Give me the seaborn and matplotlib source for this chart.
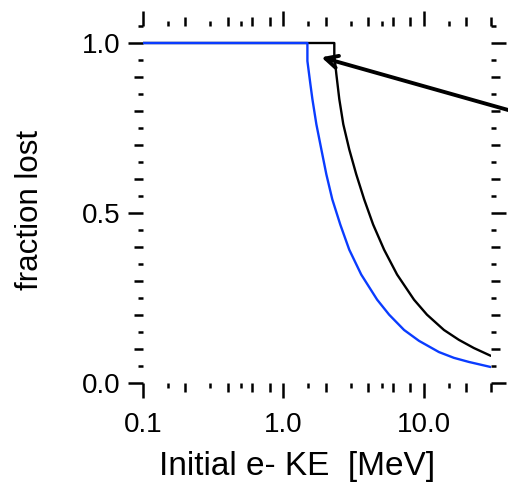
import numpy as np
import pandas as pd
import matplotlib
matplotlib.use("Agg")
import matplotlib.pyplot as plt
import seaborn as sns

# Fraction of electrons lost vs. initial kinetic energy (MeV)
ke_black = [0.1, 2.300, 2.300, 2.377, 2.496, 2.665, 2.939, 3.294, 3.753, 4.347,
            5.203, 6.435, 8.494, 10.50, 13.87, 17.71, 22.62, 29.87]
lost_black = [1.0, 1.0, 0.965, 0.909, 0.835, 0.761, 0.687, 0.614, 0.540, 0.466,
              0.392, 0.319, 0.245, 0.201, 0.156, 0.127, 0.103, 0.080]

ke_blue = [0.1, 1.480, 1.480, 1.554, 1.606, 1.714, 1.860, 2.018, 2.226, 2.537,
           2.939, 3.575, 4.642, 5.648, 7.215, 9.216, 12.78, 16.33, 20.85, 29.87]
lost_blue = [1.0, 1.0, 0.947, 0.879, 0.835, 0.761, 0.687, 0.614, 0.540, 0.466,
             0.392, 0.319, 0.245, 0.201, 0.156, 0.124, 0.091, 0.074, 0.062, 0.047]

x_tick_vals = [0.1, 0.15, 0.2, 0.3, 0.4, 0.5, 0.6, 0.8,
               1.0, 1.5, 2.0, 3.0, 4.0, 5.0, 6.0, 8.0,
               10.0, 15.0, 20.0, 30.0]
x_tick_labels = {0.1: "0.1", 1.0: "1.0", 10.0: "10.0"}
y_tick_vals = [round(0.05 * i, 2) for i in range(22)]
y_tick_labels = {0.0: "0.0", 0.5: "0.5", 1.0: "1.0"}

sns.set_style("white")
plt.rcParams["font.family"] = ["Liberation Sans", "DejaVu Sans"]
plt.rcParams.update({"text.color": "black", "axes.labelcolor": "black",
                     "xtick.color": "black", "ytick.color": "black"})

fig = plt.figure(figsize=(5.08, 4.86), dpi=100)
ax = fig.add_axes([143 / 508, 1 - 383 / 486, 348 / 508, 357 / 486])

df_black = pd.DataFrame({"ke": ke_black, "lost": lost_black})
df_blue = pd.DataFrame({"ke": ke_blue, "lost": lost_blue})
sns.lineplot(data=df_black, x="ke", y="lost", ax=ax, color="black",
             linewidth=1.7, estimator=None, sort=False)
sns.lineplot(data=df_blue, x="ke", y="lost", ax=ax, color="#0a3cff",
             linewidth=1.7, estimator=None, sort=False)

ax.set_xscale("log")
ax.set_xlim(0.1, 30.0)
ax.set_ylim(0.0, 1.05)

for s in ax.spines.values():
    s.set_visible(False)

ax.set_xticks(x_tick_vals)
ax.set_xticklabels([x_tick_labels.get(v, "") for v in x_tick_vals])
ax.xaxis.set_minor_locator(matplotlib.ticker.NullLocator())
ax.set_yticks(y_tick_vals)
ax.set_yticklabels([y_tick_labels.get(v, "") for v in y_tick_vals])

ax.tick_params(axis="both", which="major", direction="out", width=1.8,
               length=10.5, color="black", labelcolor="black", labelsize=20,
               bottom=True, left=True, top=True, right=True,
               labeltop=False, labelright=False)
ax.tick_params(axis="x", pad=10.5)
ax.tick_params(axis="y", pad=6)


def tick_len(v, majors, mediums):
    if any(abs(v - m) < 1e-9 for m in majors):
        return 10.5
    if any(abs(v - m) < 1e-9 for m in mediums):
        return 6.8
    return 3.8


x_med = [0.2, 0.4, 0.6, 0.8, 2.0, 4.0, 6.0, 8.0, 20.0, 30.0]
for v, t in zip(x_tick_vals, ax.xaxis.get_major_ticks()):
    L = tick_len(v, [0.1, 1.0, 10.0], x_med)
    t.tick1line.set_markersize(L)
    t.tick2line.set_markersize(L)

y_med = [round(0.1 * i, 2) for i in range(11)]
for v, t in zip(y_tick_vals, ax.yaxis.get_major_ticks()):
    L = tick_len(v, [0.0, 0.5, 1.0], y_med)
    t.tick1line.set_markersize(L)
    t.tick2line.set_markersize(L)

ax.set_xlabel("Initial e- KE  [MeV]", fontsize=24, va="center")
ax.xaxis.set_label_coords(0.443, -0.235)
ax.set_ylabel("fraction lost", fontsize=22.5, va="center")
ax.yaxis.set_label_coords(-0.325, 0.485)

ax.annotate("", xy=(1.86, 0.958), xytext=(1.07, 0.759),
            xycoords="data", textcoords="axes fraction",
            arrowprops=dict(arrowstyle="->", lw=2.8, color="black",
                            mutation_scale=22, shrinkA=0, shrinkB=0),
            annotation_clip=False)

fig.savefig("out.png", dpi=100)
